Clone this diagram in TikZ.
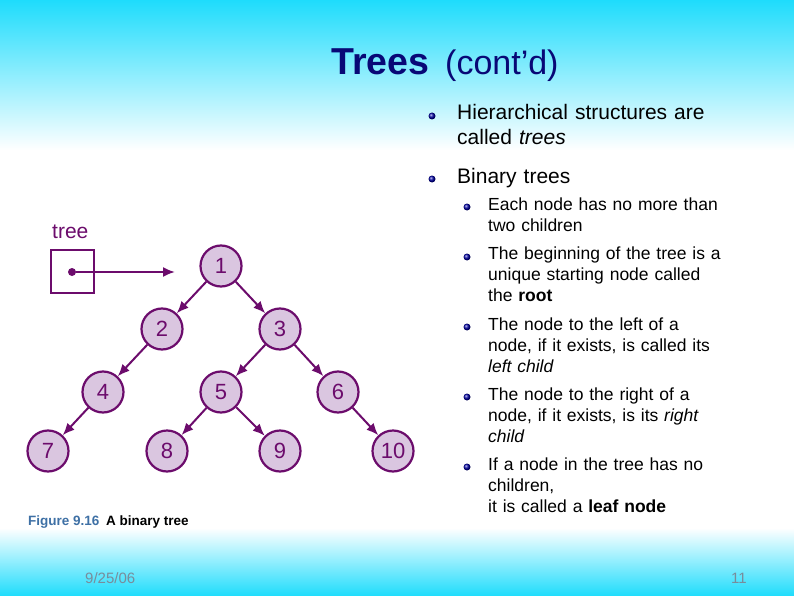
\documentclass[tikz,border=0pt]{standalone}
\usepackage{fontspec}
\setmainfont{Liberation Sans}
\usetikzlibrary{arrows.meta}
\definecolor{slidecyan}{RGB}{30,220,252}
\definecolor{treepurple}{RGB}{108,12,108}
\definecolor{treefill}{RGB}{218,198,224}
\definecolor{titleblue}{RGB}{8,8,118}
\definecolor{figblue}{RGB}{62,112,165}
\definecolor{footgray}{RGB}{120,140,155}
\tikzset{
  treenode/.style={
    circle,
    draw=treepurple,
    line width=2.2pt,
    fill=treefill,
    minimum size=41pt,
    inner sep=0pt,
    text=treepurple,
    font=\fontsize{22}{22}\selectfont
  },
  link/.style={
    draw=treepurple,
    line width=2pt,
    -{Latex[length=12pt,width=10pt]}
  },
  bulletdot/.style={
    circle,
    inner sep=0pt,
    minimum size=7pt,
    ball color=blue!65!black
  },
  mainitem/.style={
    anchor=base west,
    align=left,
    text width=280pt,
    inner sep=0pt,
    font=\fontsize{21}{24.5}\selectfont
  },
  subitem/.style={
    anchor=base west,
    align=left,
    text width=260pt,
    inner sep=0pt,
    font=\fontsize{17.5}{21.3}\selectfont
  }
}
\begin{document}
\begin{tikzpicture}[x=1pt, y=-1pt]
        \useasboundingbox (0,0) rectangle (794,596);
        % background
        \fill[white] (0,0) rectangle (794,596);
        \fill[top color=slidecyan, bottom color=white] (0,0) rectangle (794,150);
        \fill[top color=white, bottom color=slidecyan] (0,528) rectangle (794,596);

        % title
        \node[anchor=base west, inner sep=0pt, text=titleblue] (title) at (331,75)
          {{\fontsize{37.5}{37.5}\selectfont\bfseries Trees}\hspace{16pt}{\fontsize{34}{34}\selectfont (cont'd)}};

        % bullets
        \node[bulletdot] (b1) at (432,116) {};
        \node[mainitem] (t1) at (457,120) {Hierarchical structures are\\called \textit{trees}};
        \node[bulletdot] (b2) at (432,179) {};
        \node[mainitem] (t2) at (457,183) {Binary trees};
        \node[bulletdot] (s1) at (467,207) {};
        \node[subitem] (u1) at (488,210) {Each node has no more than\\two children};
        \node[bulletdot] (s2) at (467,257) {};
        \node[subitem] (u2) at (488,259) {The beginning of the tree is a\\unique starting node called\\the \textbf{root}};
        \node[bulletdot] (s3) at (467,327) {};
        \node[subitem] (u3) at (488,330) {The node to the left of a\\node, if it exists, is called its\\\textit{left child}};
        \node[bulletdot] (s4) at (467,397) {};
        \node[subitem] (u4) at (488,400) {The node to the right of a\\node, if it exists, is its \textit{right}\\\textit{child}};
        \node[bulletdot] (s5) at (467,467) {};
        \node[subitem] (u5) at (488,470) {If a node in the tree has no\\children,\\it is called a \textbf{leaf node}};

        % pointer box
        \node[anchor=base west, inner sep=0pt, text=treepurple, font=\fontsize{21}{21}\selectfont] (treelabel) at (52,238) {tree};
        \node[draw=treepurple, line width=2pt, minimum size=43pt, inner sep=0pt] (treebox) at (72.5,271) {};
        \node[circle, fill=treepurple, minimum size=8pt, inner sep=0pt] (dot) at (72,272) {};
        \coordinate (ptrend) at (175,272);
        \draw[link] (dot) -- (ptrend);

        % tree nodes
        \node[treenode] (n1) at (221,266) {1};
        \node[treenode] (n2) at (162,329) {2};
        \node[treenode] (n3) at (280,329) {3};
        \node[treenode] (n4) at (103,392) {4};
        \node[treenode] (n5) at (221,392) {5};
        \node[treenode] (n6) at (338,392) {6};
        \node[treenode] (n7) at (48,451) {7};
        \node[treenode] (n8) at (167,451) {8};
        \node[treenode] (n9) at (280,451) {9};
        \node[treenode] (n10) at (393,451) {10};

        \foreach \a/\b in {n1/n2, n1/n3, n2/n4, n3/n5, n3/n6, n4/n7, n5/n8, n5/n9, n6/n10}
          \draw[link] (\a) -- (\b);

        % caption and footer
        \node[anchor=base west, inner sep=0pt, font=\bfseries\fontsize{13.5}{13.5}\selectfont] (caption) at (28,525.5)
          {\textcolor{figblue}{Figure 9.16}\enspace A binary tree};
        \node[anchor=base west, inner sep=0pt, text=footgray, font=\fontsize{15}{15}\selectfont] (date) at (85,583) {9/25/06};
        \node[anchor=base west, inner sep=0pt, text=footgray, font=\fontsize{15}{15}\selectfont] (page) at (731,583) {11};
      \end{tikzpicture}
\end{document}
